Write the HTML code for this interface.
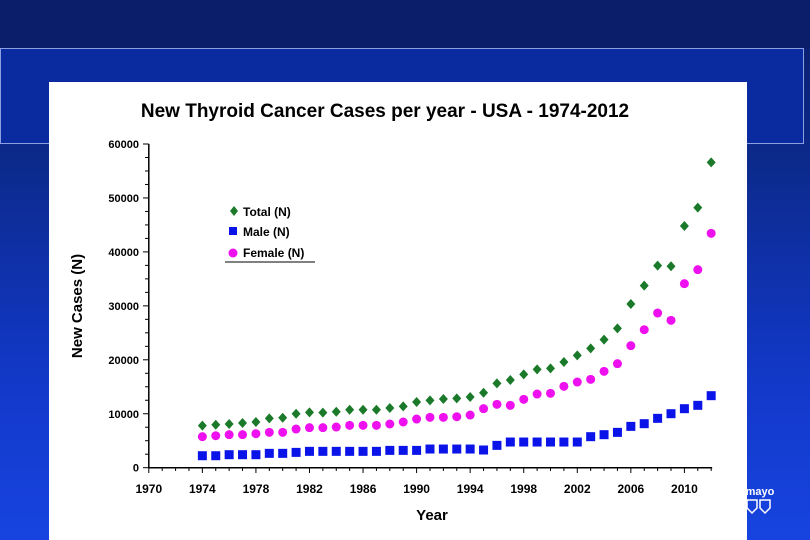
<!DOCTYPE html>
<html><head><meta charset="utf-8"><style>
body{margin:0;width:810px;height:540px;overflow:hidden;background:linear-gradient(#0a1e6a 0%,#0c2a8c 30%,#1238c8 70%,#1744e0 100%);font-family:"Liberation Sans",sans-serif;position:relative}
#top{position:absolute;left:0;top:0;width:810px;height:48px;background:#0a1e6a}
#band{position:absolute;left:0;top:48px;width:802px;height:94px;background:#0a2aa0;border:1px solid #8aa0e0}
#panel{position:absolute;left:49px;top:82px;width:698px;height:458px;background:#fff}
svg{position:absolute;left:0;top:0}
</style></head><body>
<div id="top"></div>
<div id="band"></div>
<div id="panel"></div>
<svg id="chart" width="810" height="540">
<text x="385" y="117" font-size="19" font-weight="bold" text-anchor="middle">New Thyroid Cancer Cases per year - USA - 1974-2012</text>
<text transform="translate(82,306) rotate(-90)" font-size="15" font-weight="bold" text-anchor="middle">New Cases (N)</text>
<text x="432" y="520" font-size="15" font-weight="bold" text-anchor="middle">Year</text>
<g>
<path d="M234,206 L238,211 L234,216 L230,211Z" fill="#1a7a2a"/>
<text x="243" y="216" font-size="12" font-weight="bold">Total (N)</text>
<rect x="229" y="227" width="8" height="8" fill="#0a14e8"/>
<text x="243" y="236" font-size="12" font-weight="bold">Male (N)</text>
<circle cx="233" cy="253" r="4.5" fill="#ee10ee"/>
<text x="243" y="257" font-size="12" font-weight="bold">Female (N)</text>
<line x1="225" y1="262" x2="315" y2="262" stroke="#000" stroke-width="1"/>
</g>
<g fill="#fff" stroke="#fff">
<text x="760" y="495" font-size="11" font-weight="bold" text-anchor="middle" stroke="none">mayo</text>
<path d="M747,500 h10 v8 l-5,5 l-5,-5z M760,500 h10 v8 l-5,5 l-5,-5z" fill="none" stroke-width="1.5"/>
</g>
</svg>
<script>
const years=[];for(let y=1974;y<=2012;y++)years.push(y);
const total=[7790,7970,8100,8280,8470,9150,9270,10010,10260,10200,10380,10750,10750,10750,11060,11370,12170,12480,12730,12850,13100,13900,15640,16250,17300,18230,18420,19590,20830,22120,23730,25830,30340,33740,37450,37330,44800,48200,56600];
const male=[2220,2220,2410,2410,2410,2660,2660,2840,3030,3030,3030,3030,3030,3030,3210,3210,3210,3460,3460,3460,3460,3280,4140,4760,4760,4760,4760,4760,4760,5750,6120,6550,7660,8160,9150,10010,10940,11560,13350];
const female=[5750,5930,6120,6120,6300,6550,6550,7170,7420,7420,7540,7850,7850,7850,8100,8470,9020,9330,9330,9450,9760,10940,11740,11560,12670,13650,13780,15080,15880,16380,17860,19280,22620,25580,28670,27310,34110,36710,43440];
const yTicks=[0,10000,20000,30000,40000,50000,60000];
const xTickLabels=[1970,1974,1978,1982,1986,1990,1994,1998,2002,2006,2010];
const NS='http://www.w3.org/2000/svg',svg=document.getElementById('chart');
const X=y=>148.8+(y-1970)*13.39;
const Y=v=>467.7-v*323.7/60000;
function mk(t,a){const e=document.createElementNS(NS,t);for(const k in a)e.setAttribute(k,a[k]);svg.appendChild(e);return e;}
let ax=mk('line',{x1:148.8,y1:Y(60000),x2:148.8,y2:467.7,stroke:'#000','stroke-width':1.5});


ax=mk('line',{x1:148.8,y1:467.7,x2:X(2012)+1,y2:467.7,stroke:'#000','stroke-width':1.5});


for(let v=0;v<=60000;v+=2500){const big=v%10000===0;mk('line',{x1:big?143:145,y1:Y(v),x2:148.8,y2:Y(v),stroke:'#000','stroke-width':1});}
for(let y=1970;y<=2012;y++){mk('line',{x1:X(y),y1:467.7,x2:X(y),y2:(y-1970)%4===0?473:471,stroke:'#000','stroke-width':1});}
yTicks.forEach(v=>{const t=mk('text',{x:139,y:Y(v)+4,'font-size':11,'font-weight':'bold','text-anchor':'end'});t.textContent=v;

});
xTickLabels.forEach(v=>{const t=mk('text',{x:X(v),y:493,'font-size':12,'font-weight':'bold','text-anchor':'middle'});t.textContent=v;

});
years.forEach((yr,i)=>{
 const m=mk('rect',{x:X(yr)-4.5,y:Y(male[i])-4.5,width:9,height:9,fill:'#0a14e8'});
 
 
 const f=mk('circle',{cx:X(yr),cy:Y(female[i]),r:4.5,fill:'#ee10ee'});
 
 
 const cx=X(yr),cy=Y(total[i]);
 const t=mk('path',{d:`M${cx},${cy-5}L${cx+4.5},${cy}L${cx},${cy+5}L${cx-4.5},${cy}Z`,fill:'#1a7a2a'});
 
 
});
</script>
</body></html>
